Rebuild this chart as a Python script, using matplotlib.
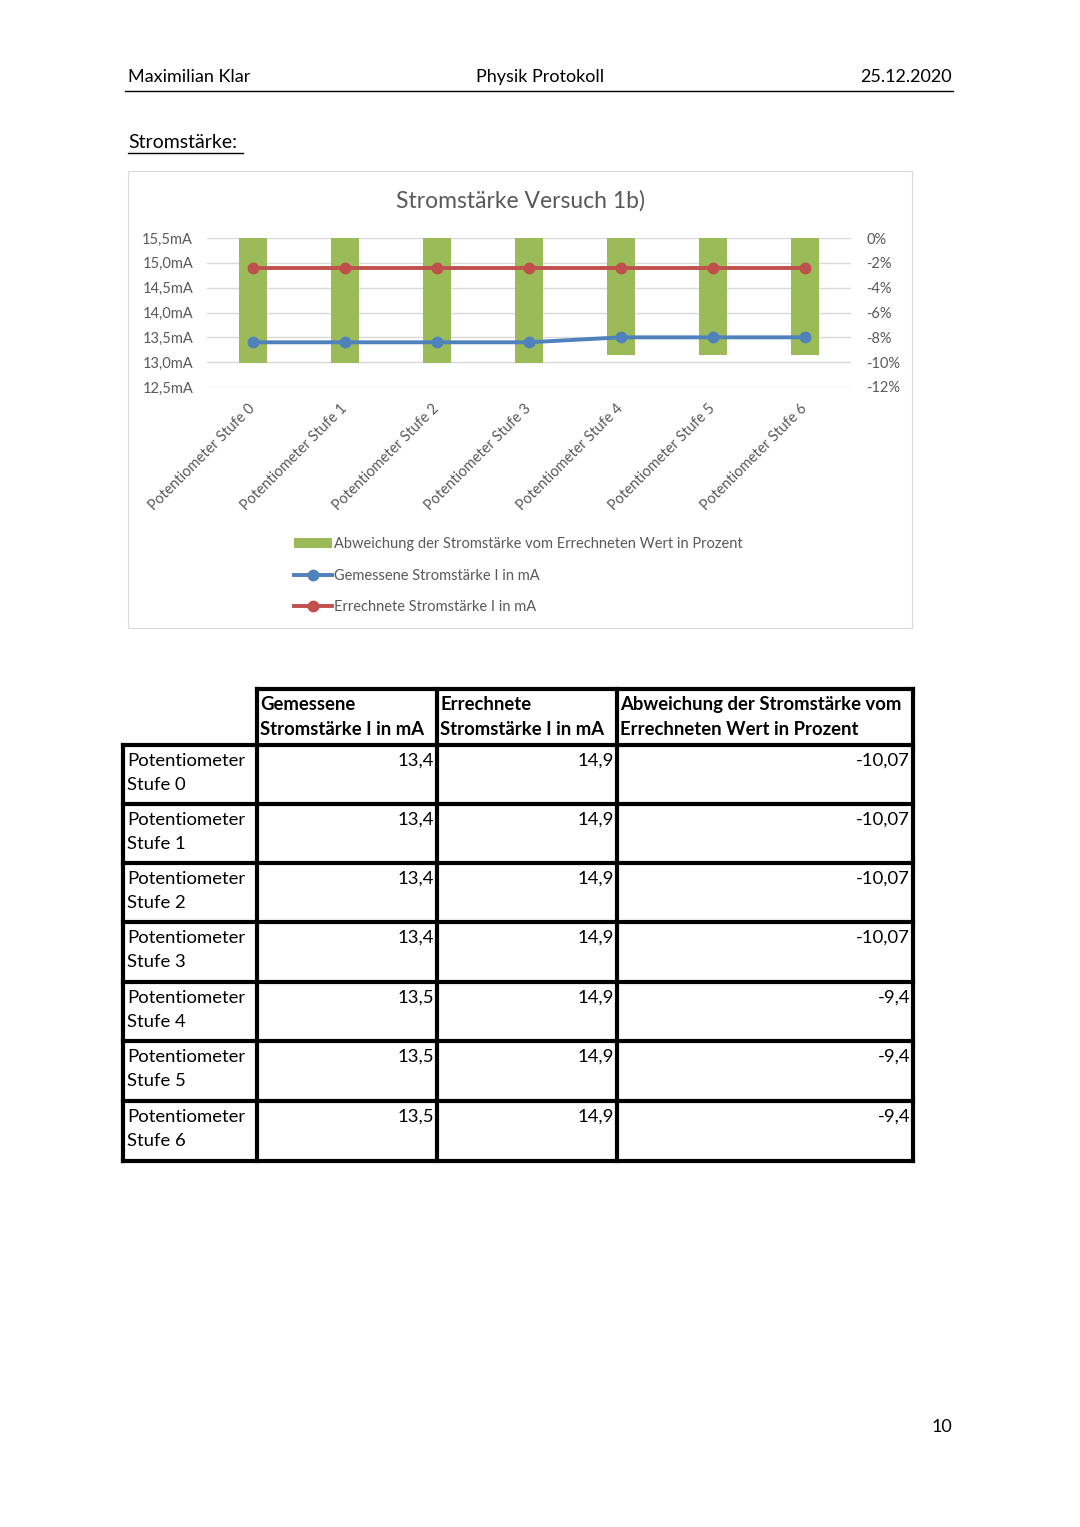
import matplotlib
matplotlib.use('Agg')
import matplotlib.pyplot as plt
from matplotlib.patches import Rectangle
from matplotlib.lines import Line2D

plt.rcParams['font.family'] = ['Lato', 'DejaVu Sans']

stufen = ["Potentiometer Stufe %d" % i for i in range(7)]
gemessen = [13.4, 13.4, 13.4, 13.4, 13.5, 13.5, 13.5]
errechnet = [14.9, 14.9, 14.9, 14.9, 14.9, 14.9, 14.9]
abweichung = [-10.07, -10.07, -10.07, -10.07, -9.4, -9.4, -9.4]
ma_ticks = [12.5, 13.0, 13.5, 14.0, 14.5, 15.0, 15.5]
pct_ticks = [-12, -10, -8, -6, -4, -2, 0]

green = '#9BBB59'
blue = '#4F81BD'
red = '#C0504D'
grey = '#595959'

W, H = 1080, 1527
fig = plt.figure(figsize=(W / 100, H / 100), dpi=100)
fig.patch.set_facecolor('white')

# page overlay in pixel coordinates
pg = fig.add_axes([0, 0, 1, 1])
pg.set_xlim(0, W)
pg.set_ylim(H, 0)
pg.axis('off')

# header
pg.text(128, 77, "Maximilian Klar", fontsize=13, va='center', ha='left')
pg.text(540, 77, "Physik Protokoll", fontsize=13, va='center', ha='center')
pg.text(952, 77, "25.12.2020", fontsize=13, va='center', ha='right')
pg.add_line(Line2D([125, 953], [91, 91], color='black', lw=1))

pg.text(128, 142, "Stromstärke:", fontsize=14, va='center', ha='left')
pg.add_line(Line2D([128, 243], [153, 153], color='black', lw=1))

# chart box
pg.add_patch(Rectangle((128, 171), 784, 457, fill=False, ec='#D9D9D9', lw=0.8))
pg.text(520, 201, "Stromstärke Versuch 1b)", fontsize=16.5, color=grey,
        ha='center', va='center')


def px2fig(x0, y0, x1, y1):
    return [x0 / W, 1 - y1 / H, (x1 - x0) / W, (y1 - y0) / H]


ax = fig.add_axes(px2fig(207, 238, 851, 387))
ax2 = ax.twinx()
ax.set_zorder(ax2.get_zorder() + 1)
ax.patch.set_visible(False)

x = list(range(len(stufen)))
ax2.bar(x, abweichung, width=0.3, color=green, zorder=2,
        label="Abweichung der Stromstärke vom Errechneten Wert in Prozent")
ax2.set_ylim(-12, 0)
ax2.set_yticks(pct_ticks)
ax2.set_yticklabels(["%d%%" % t for t in pct_ticks])
ax2.grid(axis='y', color='#D9D9D9', lw=1, zorder=0)
ax2.set_axisbelow(True)

ax.plot(x, gemessen, color=blue, lw=2.8, marker='o', ms=7.5,
        label="Gemessene Stromstärke I in mA")
ax.plot(x, errechnet, color=red, lw=2.8, marker='o', ms=7.5,
        label="Errechnete Stromstärke I in mA")
ax.set_ylim(12.5, 15.5)
ax.set_yticks(ma_ticks)
ax.set_yticklabels([("%.1fmA" % t).replace('.', ',') for t in ma_ticks])
ax.set_xlim(-0.5, len(stufen) - 0.5)
ax.set_xticks(x)
ax.set_xticklabels(stufen, rotation=45, ha='right', va='center',
                   rotation_mode='anchor')

for a in (ax, ax2):
    for s in a.spines.values():
        s.set_visible(False)
    a.tick_params(length=0, labelsize=10.5, labelcolor=grey)
ax.tick_params(axis='y', pad=10)
ax2.tick_params(axis='y', pad=11)
ax.tick_params(axis='x', pad=14)

# legend
handles = ax2.get_legend_handles_labels()[0] + ax.get_legend_handles_labels()[0]
labels = ax2.get_legend_handles_labels()[1] + ax.get_legend_handles_labels()[1]
fig.legend(handles, labels, loc='upper left',
           bbox_to_anchor=(281 / W, 1 - 524 / H), frameon=False,
           fontsize=10.5, labelcolor=grey, handlelength=2.6, handletextpad=0.1,
           labelspacing=1.2)

# table
cols = [123, 257, 437, 617, 913]
rows = [689, 745, 804, 863, 922, 982, 1041, 1101, 1161]
blw = 3.0
headers = ["Gemessene\nStromstärke I in mA", "Errechnete\nStromstärke I in mA",
           "Abweichung der Stromstärke vom\nErrechneten Wert in Prozent"]

# horizontal lines
pg.add_line(Line2D([cols[1], cols[-1]], [rows[0], rows[0]], color='black', lw=blw))
for yy in rows[1:]:
    pg.add_line(Line2D([cols[0], cols[-1]], [yy, yy], color='black', lw=blw))
# vertical lines
pg.add_line(Line2D([cols[0], cols[0]], [rows[1], rows[-1]], color='black', lw=blw))
for xx in cols[1:]:
    pg.add_line(Line2D([xx, xx], [rows[0], rows[-1]], color='black', lw=blw))

tfs = 13.3
for j, h in enumerate(headers):
    pg.text(cols[j + 1] + 3, rows[0] + 7, h, fontsize=tfs, fontweight='bold',
            ha='left', va='top', linespacing=1.6)


def fmt(v):
    return ("%g" % v).replace('.', ',')


for i in range(len(stufen)):
    y0 = rows[i + 1] + 8
    name = stufen[i].replace(" Stufe", "\nStufe")
    pg.text(cols[0] + 4, y0, name, fontsize=tfs, ha='left', va='top',
            linespacing=1.6)
    for j, v in enumerate([gemessen[i], errechnet[i], abweichung[i]]):
        pg.text(cols[j + 2] - 3, y0, fmt(v), fontsize=tfs, ha='right', va='top')

pg.text(952, 1427, "10", fontsize=13, ha='right', va='center')

fig.savefig("out.png", dpi=100, facecolor='white')
